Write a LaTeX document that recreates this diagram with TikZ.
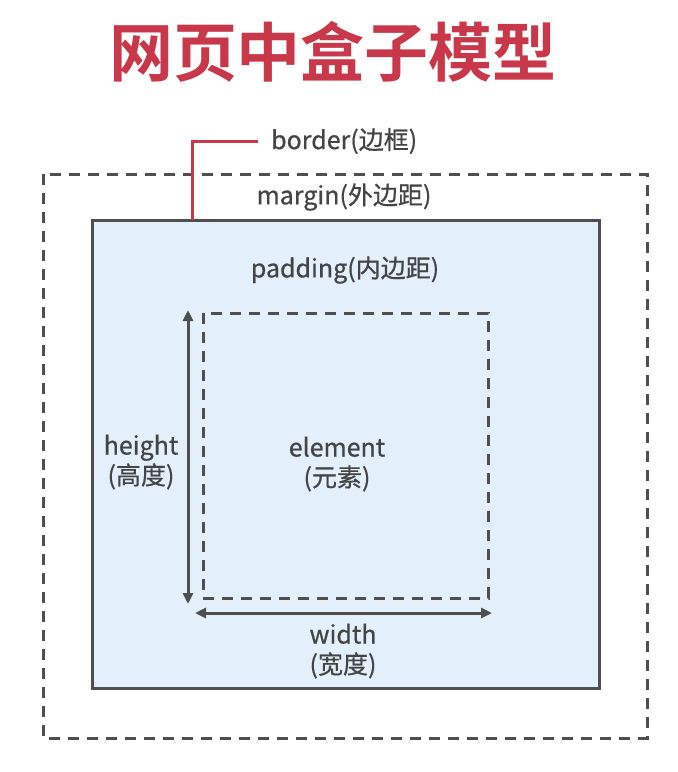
\documentclass[tikz,border=0pt]{standalone}
\usepackage{fontspec}
\setmainfont{Noto Sans CJK SC}
\newfontfamily\cjk[FakeBold=0.6]{Noto Sans CJK SC}
\newfontfamily\cjkbold{Noto Sans CJK SC Bold}
\usetikzlibrary{arrows.meta}
\definecolor{titlered}{HTML}{C8374A}
\definecolor{linegray}{HTML}{4F4F4F}
\definecolor{textgray}{HTML}{444444}
\definecolor{boxblue}{HTML}{E3F0FB}
\tikzset{
  dashbox/.style={draw=linegray, line width=3pt, dash pattern=on 11pt off 8pt},
  lbl/.style={text=textgray, font=\cjk\fontsize{25}{30}\selectfont, align=center, inner sep=0pt},
  dimarrow/.style={draw=linegray, line width=3pt, {Triangle[length=11pt,width=10pt]}-{Triangle[length=11pt,width=10pt]}}
}
\begin{document}
\begin{tikzpicture}[x=1pt,y=-1pt]
\useasboundingbox (0,0) rectangle (678,772);
\node[font=\cjkbold\fontsize{64}{64}\selectfont, text=titlered, inner sep=0pt] (title) at (333,52) {网页中盒子模型};
% margin
\draw[dashbox] (43,174) rectangle (647,738);
% border box
\draw[draw=linegray, fill=boxblue, line width=3pt] (92,220) rectangle (599,688);
\coordinate (bordertop) at (192,220);
% element dashed
\draw[dashbox] (203,313) rectangle (488,598);
% labels
\node[lbl, anchor=west] (border) at (271,141) {border(边框)};
\node[lbl] (margin) at (344,197) {margin(外边距)};
\node[lbl] (padding) at (345,270) {padding(内边距)};
\node[lbl] (height) at (141,462) {height\\(高度)};
\node[lbl] (element) at (337,464) {element\\(元素)};
\node[lbl] (width) at (343,651) {width\\(宽度)};
% border pointer
\draw[draw=titlered, line width=3pt] (bordertop) |- ([xshift=-13pt]border.west);
% dimension arrows
\coordinate (htop) at (188,310);
\coordinate (hbot) at (188,604);
\coordinate (wl) at (195,613);
\coordinate (wr) at (492,613);
\draw[dimarrow] (htop) -- (hbot);
\draw[dimarrow] (wl) -- (wr);
\end{tikzpicture}
\end{document}
